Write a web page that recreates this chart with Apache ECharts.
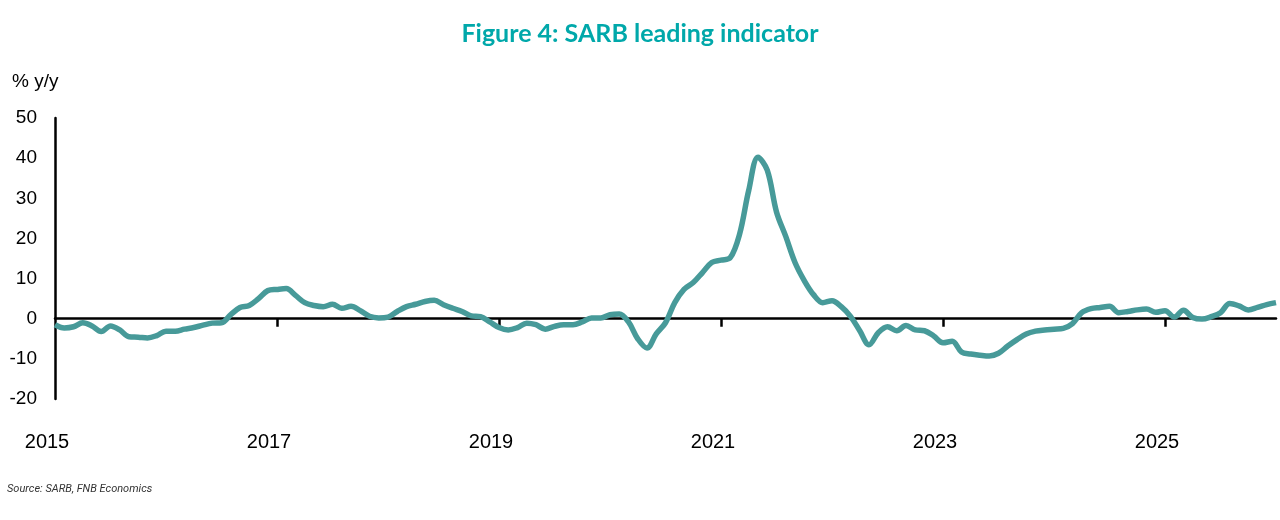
<!DOCTYPE html>
<html lang="en">

<head>
    <meta charset="UTF-8">
    <title>SARB leading indicator</title>
    <script src="https://cdn.jsdelivr.net/npm/echarts@6/dist/echarts.min.js"></script>
    <style>
        html, body { margin: 0; padding: 0; background: #fff; }
        #chart { width: 1280px; height: 520px; }
    </style>
</head>

<body>
    <div id="chart"></div>
    <script>
        // SARB leading indicator, % y/y, monthly from Jan 2015
        var startYear = 2015;
        var values = [
            -1.5, -2.3, -2.0, -1.0, -1.8, -3.2, -1.8, -2.8, -4.5, -4.6, -4.8, -4.2,
            -3.1, -3.1, -2.6, -2.2, -1.6, -1.1, -1.0, 1.0, 2.8, 3.3, 5.0, 7.0,
            7.3, 7.5, 5.8, 4.0, 3.3, 3.0, 3.6, 2.6, 3.1, 2.0, 0.6, 0.2,
            0.4, 1.8, 3.0, 3.6, 4.3, 4.6, 3.5, 2.6, 1.8, 0.7, 0.5, -0.8,
            -2.2, -2.8, -2.2, -1.1, -1.5, -2.6, -1.9, -1.5, -1.5, -0.8, 0.2, 0.2,
            1.0, 1.2, -0.8, -5.0, -7.3, -3.8, -1.0, 4.0, 7.3, 9.0, 11.5, 14.0,
            14.6, 15.2, 21.0, 32.0, 40.2, 37.0, 26.6, 20.5, 14.0, 9.5, 6.0, 4.0,
            4.5, 3.0, 0.6, -3.0, -6.5, -3.5, -2.0, -3.0, -1.7, -2.8, -3.0, -4.3,
            -6.0, -5.6, -8.3, -8.8, -9.1, -9.3, -8.6, -6.8, -5.2, -3.8, -3.1, -2.8,
            -2.6, -2.4, -1.2, 1.5, 2.5, 2.8, 3.1, 1.5, 1.8, 2.2, 2.4, 1.6,
            2.0, 0.4, 2.1, 0.3, -0.1, 0.5, 1.5, 3.8, 3.2, 2.2, 2.8, 3.5,
            4.0
        ];
        var tickMonths = [24, 48, 72, 96, 120];
        var labelMonths = [0, 24, 48, 72, 96, 120];

        var seriesData = values.map(function (v, i) { return [i, v]; });

        var chart = echarts.init(document.getElementById('chart'));
        chart.setOption({
            animation: false,
            title: [{
                text: 'Figure 4: SARB leading indicator',
                left: 'center',
                top: 16,
                textStyle: { color: '#00A8AA', fontFamily: 'Lato', fontWeight: 'bold', fontSize: 25 }
            }, {
                text: '% y/y',
                left: 7,
                top: 67,
                textStyle: { color: '#000', fontFamily: 'Liberation Sans', fontWeight: 'normal', fontSize: 19 }
            }, {
                text: 'Source: SARB, FNB Economics',
                left: 2,
                top: 479,
                textStyle: { color: '#333', fontFamily: 'Roboto', fontStyle: 'italic', fontWeight: 'normal', fontSize: 11 }
            }],
            grid: { left: 55, right: 4, top: 118, bottom: 121 },
            xAxis: [{
                type: 'value',
                min: 0,
                max: 132,
                interval: 24,
                splitLine: { show: false },
                axisLine: { onZero: true, lineStyle: { color: '#000', width: 2.5 } },
                axisTick: { show: true, length: 8, customValues: tickMonths, lineStyle: { color: '#000', width: 2.5 } },
                axisLabel: { show: false }
            }, {
                type: 'value',
                min: 0,
                max: 132,
                interval: 24,
                position: 'bottom',
                splitLine: { show: false },
                axisLine: { show: false, onZero: false },
                axisTick: { show: false },
                axisLabel: {
                    customValues: labelMonths,
                    margin: 33,
                    padding: [0, 16, 0, 0],
                    color: '#000',
                    fontFamily: 'Liberation Sans',
                    fontSize: 20,
                    formatter: function (v) { return String(startYear + v / 12); }
                }
            }],
            yAxis: {
                type: 'value',
                min: -20,
                max: 50,
                interval: 10,
                splitLine: { show: false },
                axisLine: { show: true, onZero: false, lineStyle: { color: '#000', width: 2.5 } },
                axisTick: { show: false },
                axisLabel: { margin: 18, color: '#000', fontFamily: 'Liberation Sans', fontSize: 19 }
            },
            series: [{
                type: 'line',
                xAxisIndex: 0,
                data: seriesData,
                smooth: 0.35,
                showSymbol: false,
                lineStyle: { color: '#479A99', width: 5.5 },
                z: 3
            }]
        });
    </script>
</body>

</html>
